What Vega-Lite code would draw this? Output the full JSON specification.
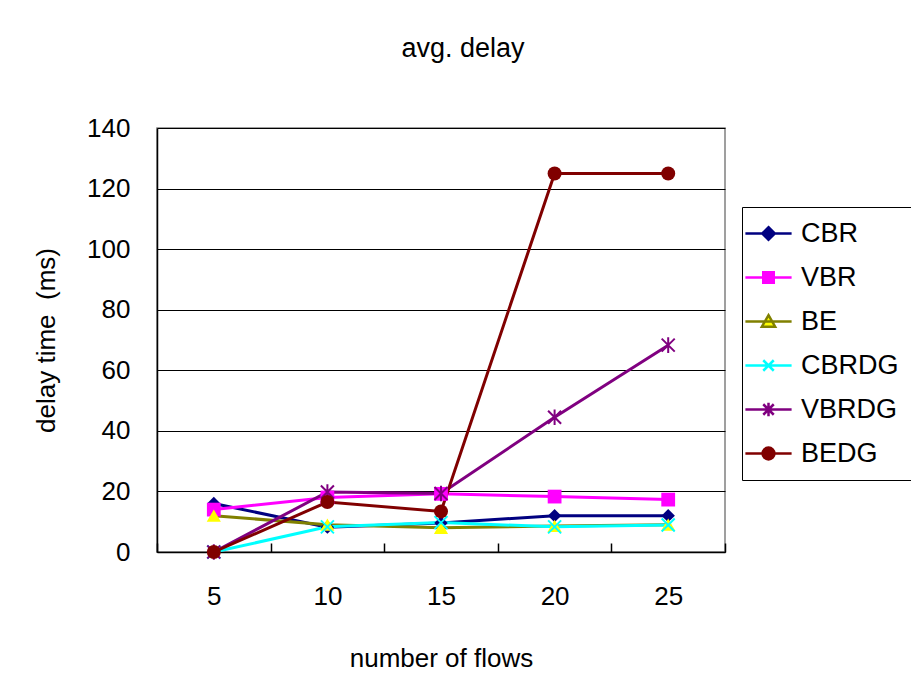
{
  "$schema": "https://vega.github.io/schema/vega-lite/v6.json",
  "width": 568,
  "height": 424,
  "autosize": "none",
  "padding": {"left": 157, "top": 128, "right": 186, "bottom": 141},
  "background": "white",
  "title": {
    "text": "avg. delay",
    "font": "Liberation Sans",
    "fontSize": 27,
    "fontWeight": "normal",
    "color": "#000",
    "dx": 22,
    "offset": 52
  },
  "data": {
    "values": [
      {"series": "CBR", "flows": 5, "delay": 16},
      {"series": "CBR", "flows": 10, "delay": 8.2},
      {"series": "CBR", "flows": 15, "delay": 9.6},
      {"series": "CBR", "flows": 20, "delay": 12},
      {"series": "CBR", "flows": 25, "delay": 12},
      {"series": "VBR", "flows": 5, "delay": 14},
      {"series": "VBR", "flows": 10, "delay": 18},
      {"series": "VBR", "flows": 15, "delay": 19.2},
      {"series": "VBR", "flows": 20, "delay": 18.3},
      {"series": "VBR", "flows": 25, "delay": 17.3},
      {"series": "BE", "flows": 5, "delay": 12},
      {"series": "BE", "flows": 10, "delay": 9},
      {"series": "BE", "flows": 15, "delay": 8},
      {"series": "BE", "flows": 20, "delay": 8.6},
      {"series": "BE", "flows": 25, "delay": 9},
      {"series": "CBRDG", "flows": 5, "delay": 0},
      {"series": "CBRDG", "flows": 10, "delay": 8.3},
      {"series": "CBRDG", "flows": 15, "delay": 9.7},
      {"series": "CBRDG", "flows": 20, "delay": 8.3},
      {"series": "CBRDG", "flows": 25, "delay": 8.9},
      {"series": "VBRDG", "flows": 5, "delay": 0},
      {"series": "VBRDG", "flows": 10, "delay": 19.8},
      {"series": "VBRDG", "flows": 15, "delay": 19.3},
      {"series": "VBRDG", "flows": 20, "delay": 44.5},
      {"series": "VBRDG", "flows": 25, "delay": 68.3},
      {"series": "BEDG", "flows": 5, "delay": 0},
      {"series": "BEDG", "flows": 10, "delay": 16.5},
      {"series": "BEDG", "flows": 15, "delay": 13.4},
      {"series": "BEDG", "flows": 20, "delay": 125},
      {"series": "BEDG", "flows": 25, "delay": 125}
    ]
  },
  "encoding": {
    "x": {
      "field": "flows",
      "type": "ordinal",
      "bandPosition": 0.5,
      "scale": {"type": "band", "paddingInner": 0, "paddingOuter": 0},
      "axis": {
        "title": "number of flows",
        "labelAngle": 0,
        "tickBand": "extent",
        "tickSize": -9,
        "tickColor": "#000",
        "tickWidth": 1.5,
        "labelPadding": 40,
        "titlePadding": 36,
        "grid": false
      }
    },
    "y": {
      "field": "delay",
      "type": "quantitative",
      "scale": {"domain": [0, 140], "nice": false},
      "axis": {
        "title": "delay time\u00a0 (ms)",
        "values": [0, 20, 40, 60, 80, 100, 120, 140],
        "ticks": false,
        "labelPadding": 27,
        "titlePadding": 27,
        "grid": true,
        "gridColor": "#000",
        "gridWidth": 1
      }
    }
  },
  "layer": [
    {
      "mark": {"type": "line", "strokeWidth": 3},
      "encoding": {
        "stroke": {
          "field": "series",
          "type": "nominal",
          "scale": {
            "domain": ["CBR", "VBR", "BE", "CBRDG", "VBRDG", "BEDG"],
            "range": ["#000080", "#FF00FF", "#808000", "#00FFFF", "#800080", "#800000"]
          },
          "legend": {
            "orient": "none",
            "legendX": 585,
            "legendY": 79,
            "title": null,
            "strokeColor": "#000",
            "padding": 13,
            "rowPadding": 16,
            "labelOffset": 19,
            "symbolSize": 196,
            "symbolStrokeWidth": 2.5,
            "symbolOpacity": 1,
            "encode": {
              "symbols": {
                "update": {
                  "opacity": {"value": 1},
                  "fillOpacity": {"value": 1},
                  "strokeOpacity": {"value": 1}
                }
              }
            }
          }
        }
      }
    },
    {
      "transform": [{"filter": "datum.series === 'CBR'"}],
      "mark": {"type": "point", "shape": "diamond", "filled": true, "size": 180, "color": "#000080", "opacity": 1},
      "encoding": {}
    },
    {
      "transform": [{"filter": "datum.series === 'VBR'"}],
      "mark": {"type": "point", "shape": "square", "filled": true, "size": 190, "color": "#FF00FF", "opacity": 1},
      "encoding": {}
    },
    {
      "transform": [{"filter": "datum.series === 'BE'"}],
      "mark": {"type": "point", "shape": "triangle-up", "filled": true, "size": 200, "color": "#FFFF00", "opacity": 1},
      "encoding": {}
    },
    {
      "transform": [{"filter": "datum.series === 'CBRDG'"}],
      "mark": {"type": "point", "shape": "M-1,-1L1,1M1,-1L-1,1", "filled": false, "size": 170, "color": "#00FFFF", "strokeWidth": 2, "opacity": 1},
      "encoding": {}
    },
    {
      "transform": [{"filter": "datum.series === 'VBRDG'"}],
      "mark": {"type": "point", "shape": "M-1,-1L1,1M1,-1L-1,1M0,-1.2V1.2", "filled": false, "size": 170, "color": "#800080", "strokeWidth": 2, "opacity": 1},
      "encoding": {}
    },
    {
      "transform": [{"filter": "datum.series === 'BEDG'"}],
      "mark": {"type": "point", "shape": "circle", "filled": true, "size": 196, "color": "#800000", "opacity": 1},
      "encoding": {}
    },
    {
      "description": "Legend source: no marks are drawn, only the merged fill/stroke/shape legend.",
      "transform": [{"filter": "false"}],
      "mark": {"type": "point", "filled": true, "strokeWidth": 2.5, "opacity": 1},
      "encoding": {
        "stroke": {"field": "series", "type": "nominal"},
        "fill": {
          "field": "series",
          "type": "nominal",
          "scale": {
            "domain": ["CBR", "VBR", "BE", "CBRDG", "VBRDG", "BEDG"],
            "range": ["#000080", "#FF00FF", "#FFFF00", "transparent", "transparent", "#800000"]
          }
        },
        "shape": {
          "field": "series",
          "type": "nominal",
          "scale": {
            "domain": ["CBR", "VBR", "BE", "CBRDG", "VBRDG", "BEDG"],
            "range": [
              "M-3.3,0H3.3M0,-0.9L0.9,0L0,0.9L-0.9,0Z",
              "M-3.3,0H3.3M-0.75,-0.75H0.75V0.75H-0.75Z",
              "M-3.3,0H3.3M0,-0.9L0.95,0.75H-0.95Z",
              "M-3.3,0H3.3M-0.75,-0.75L0.75,0.75M0.75,-0.75L-0.75,0.75",
              "M-3.3,0H3.3M-0.75,-0.75L0.75,0.75M0.75,-0.75L-0.75,0.75M0,-0.95V0.95",
              "M-3.3,0H3.3M0.85,0A0.85,0.85 0 1,1 -0.85,0A0.85,0.85 0 1,1 0.85,0Z"
            ]
          }
        }
      }
    }
  ],
  "config": {
    "font": "Liberation Sans",
    "view": {"stroke": "#808080", "strokeWidth": 1.5},
    "axis": {
      "labelFont": "Liberation Sans",
      "labelFontSize": 26,
      "labelColor": "#000",
      "titleFont": "Liberation Sans",
      "titleFontSize": 26,
      "titleFontWeight": "normal",
      "titleColor": "#000",
      "domainColor": "#000",
      "domainWidth": 1.5
    },
    "legend": {
      "labelFont": "Liberation Sans",
      "labelFontSize": 27,
      "labelColor": "#000"
    }
  }
}
